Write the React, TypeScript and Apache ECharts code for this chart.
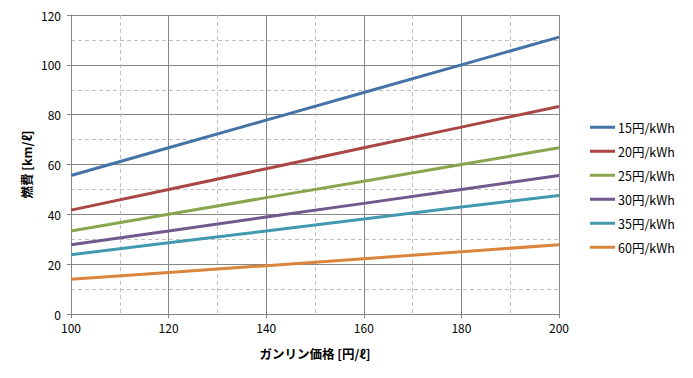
import React, { useEffect, useRef } from "react";
import * as echarts from "echarts";

const gasPrices = [100, 120, 140, 160, 180, 200];
const seriesNames = ["15円/kWh", "20円/kWh", "25円/kWh", "30円/kWh", "35円/kWh", "60円/kWh"];
const s15 = [55.6, 66.7, 77.8, 88.9, 100, 111.1];
const s20 = [41.7, 50, 58.3, 66.7, 75, 83.3];
const s25 = [33.3, 40, 46.7, 53.3, 60, 66.7];
const s30 = [27.8, 33.3, 38.9, 44.4, 50, 55.6];
const s35 = [23.8, 28.6, 33.3, 38.1, 42.9, 47.6];
const s60 = [13.9, 16.7, 19.4, 22.2, 25, 27.8];
const allValues = [s15, s20, s25, s30, s35, s60];
const colors = ["#4572A7", "#AA4643", "#89A54E", "#71588F", "#4198AF", "#DB843D"];

const FONT = "'Noto Sans CJK JP', 'DejaVu Sans', sans-serif";

export default function App() {
  const ref = useRef<HTMLDivElement>(null);
  useEffect(() => {
    if (!ref.current) return;
    const chart = echarts.init(ref.current, null, { renderer: "svg" });
    const axisLine = { show: true, lineStyle: { color: "#868686", width: 1 } };
    chart.setOption({
      animation: false,
      textStyle: { fontFamily: FONT },
      grid: { left: 71, right: 134, top: 15, bottom: 64 },
      legend: {
        orient: "vertical",
        left: 590,
        top: 121,
        padding: 0,
        icon: "rect",
        itemWidth: 25,
        itemHeight: 3,
        itemGap: 11.5,
        textStyle: { fontFamily: FONT, fontSize: 12.5, color: "#000", padding: [0, 0, 0, -2] },
        data: seriesNames,
      },
      xAxis: {
        type: "value",
        min: 100,
        max: 200,
        interval: 20,
        name: "ガンリン価格 [円/ℓ]",
        nameLocation: "middle",
        nameGap: 33,
        nameTextStyle: { fontFamily: FONT, fontSize: 12.5, fontWeight: "bold", color: "#000" },
        axisLine,
        axisTick: { show: true, length: 4, inside: false, lineStyle: { color: "#868686" } },
        axisLabel: { fontFamily: FONT, fontSize: 12, color: "#000", margin: 7 },
        splitLine: { show: true, lineStyle: { color: "#868686", width: 1 } },
        minorTick: { show: false, splitNumber: 2 },
        minorSplitLine: { show: true, lineStyle: { color: "#BFBFBF", type: [4, 3], width: 1 } },
      },
      yAxis: {
        type: "value",
        min: 0,
        max: 120,
        interval: 20,
        name: "燃費 [km/ℓ]",
        nameLocation: "middle",
        nameGap: 38,
        nameMoveOverlap: false,
        nameRotate: 90,
        nameTextStyle: { fontFamily: FONT, fontSize: 12.5, fontWeight: "bold", color: "#000" },
        axisLine,
        axisTick: { show: true, length: 4, inside: false, lineStyle: { color: "#868686" } },
        axisLabel: { fontFamily: FONT, fontSize: 12, color: "#000", margin: 10 },
        splitLine: { show: true, lineStyle: { color: "#868686", width: 1 } },
        minorTick: { show: false, splitNumber: 2 },
        minorSplitLine: { show: true, lineStyle: { color: "#BFBFBF", type: [4, 3], width: 1 } },
      },
      series: seriesNames.map((name, i) => ({
        name,
        type: "line",
        data: gasPrices.map((x, j) => [x, allValues[i][j]]),
        showSymbol: false,
        symbol: "none",
        lineStyle: { color: colors[i], width: 3 },
        itemStyle: { color: colors[i] },
      })),
    });
    return () => chart.dispose();
  }, []);
  return <div ref={ref} style={{ width: 693, height: 378, margin: -8 }} />;
}
